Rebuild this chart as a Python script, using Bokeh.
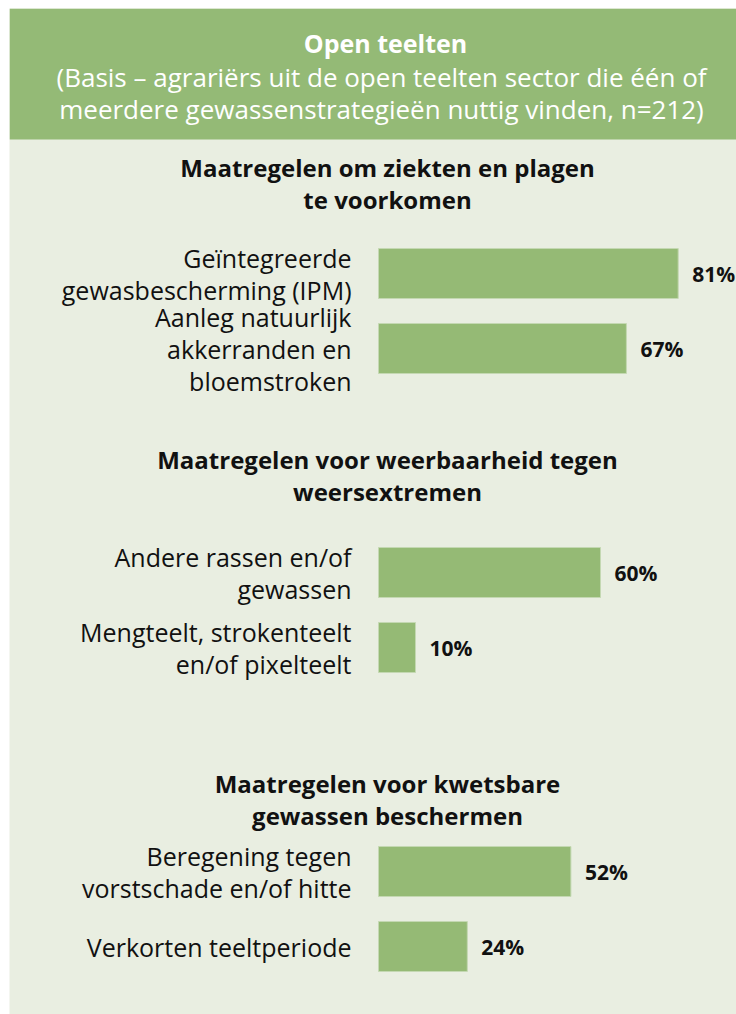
from bokeh.plotting import figure
from bokeh.models import Range1d, ColumnDataSource
from bokeh.core.properties import value
from bokeh.embed import file_html
from bokeh.resources import INLINE

# ---------------- data ----------------
header_title = "Open teelten"
header_sub = ["(Basis \u2013 agrari\u00ebrs uit de open teelten sector die \u00e9\u00e9n of",
              "meerdere gewassenstrategie\u00ebn nuttig vinden, n=212)"]
section_titles = [
    ["Maatregelen om ziekten en plagen", "te voorkomen"],
    ["Maatregelen voor weerbaarheid tegen", "weersextremen"],
    ["Maatregelen voor kwetsbare", "gewassen beschermen"],
]
labels = [
    ["Ge\u00efntegreerde", "gewasbescherming (IPM)"],
    ["Aanleg natuurlijk", "akkerranden en", "bloemstroken"],
    ["Andere rassen en/of", "gewassen"],
    ["Mengteelt, strokenteelt", "en/of pixelteelt"],
    ["Beregening tegen", "vorstschade en/of hitte"],
    ["Verkorten teeltperiode"],
]
values = [81, 67, 60, 10, 52, 24]
section_of = [0, 0, 1, 1, 2, 2]

# ---------------- layout ----------------
W, H = 736, 1014
FONT = "Open Sans"
BAR_LEFT_PX = 378
PX_PER_PCT = 3.7
section_title_y = [167, 459, 783]
bar_centers = [273, 348, 572, 647, 871, 946]
BAR_H = 50
LINE = 32

def px2x(px):
    return (px - BAR_LEFT_PX) / PX_PER_PCT

p = figure(width=W, height=H, output_backend="svg", toolbar_location=None,
           x_range=Range1d(px2x(9), px2x(W)), y_range=Range1d(H, 8),
           min_border_left=9, min_border_top=8, min_border_right=0, min_border_bottom=0)
p.axis.visible = False
p.grid.visible = False
p.outline_line_color = None
p.border_fill_color = "white"
p.background_fill_color = "#e9eee1"

# header band
p.quad(left=[px2x(9)], right=[px2x(W)], top=[8], bottom=[139],
       fill_color="#94ba76", line_color=None)
p.text(x=[px2x(385)], y=[42], text=[header_title], text_align="center", text_baseline="middle",
       text_font=value(FONT), text_font_style="bold", text_font_size="25px", text_color="white")
p.text(x=[px2x(381)] * 2, y=[76, 108], text=header_sub, text_align="center", text_baseline="middle",
       text_font=value(FONT), text_font_size="26px", text_color="white")

# section titles
tx, ty, tt = [], [], []
for s, lines in enumerate(section_titles):
    for i, ln in enumerate(lines):
        tx.append(px2x(387)); ty.append(section_title_y[s] + i * LINE); tt.append(ln)
p.text(x=tx, y=ty, text=tt, text_align="center", text_baseline="middle",
       text_font=value(FONT), text_font_style="bold", text_font_size="24px", text_color="#111111")

# bars
src = ColumnDataSource(dict(y=bar_centers, v=values, lab=[f"{v}%" for v in values]))
p.hbar(y="y", left=0, right="v", height=BAR_H, source=src,
       fill_color="#95ba75", line_color="#c4d8b2", line_width=1)
p.text(x="v", y="y", text="lab", source=src, x_offset=14, text_align="left", text_baseline="middle",
       text_font=value(FONT), text_font_style="bold", text_font_size="21px", text_color="#111111")

# category labels
lx, ly, lt = [], [], []
for k, lines in enumerate(labels):
    n = len(lines)
    for i, ln in enumerate(lines):
        lx.append(0); ly.append(bar_centers[k] + (i - (n - 1) / 2) * LINE); lt.append(ln)
p.text(x=lx, y=ly, text=lt, x_offset=-27, text_align="right", text_baseline="middle",
       text_font=value(FONT), text_font_size="25px", text_color="#111111")

open("out.html", "w").write(file_html(p, INLINE))
